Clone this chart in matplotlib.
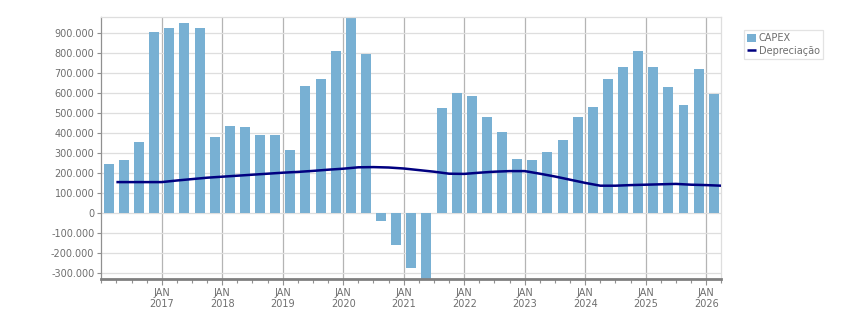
import numpy as np
import matplotlib
matplotlib.use("Agg")
import matplotlib.pyplot as plt
from matplotlib.ticker import FuncFormatter, FixedLocator, MultipleLocator

# quarterly CAPEX, 2016 Q1 .. 2026 Q1
capex = [
    246000, 266000, 356000, 906000,   # 2016
    926000, 951000, 926000, 381000,   # 2017
    436000, 431000, 391000, 391000,   # 2018
    316000, 636000, 671000, 811000,   # 2019
    976000, 796000, -38000, -158000,  # 2020
    -273000, -340000, 526000, 601000, # 2021
    586000, 481000, 406000, 271000,   # 2022
    266000, 306000, 366000, 481000,   # 2023
    531000, 671000, 731000, 811000,   # 2024
    731000, 631000, 541000, 721000,   # 2025
    596000,                           # 2026
]

# depreciation, read at quarter starts from 2016 Q2 to 2026 Q2
depreciacao = [
    156000, 156000, 156000, 156000, 164000, 171000, 178000, 183000,
    188000, 193000, 198000, 203000, 207000, 212000, 218000, 223000,
    230000, 231000, 229000, 224000, 216000, 208000, 198000, 197000,
    203000, 208000, 211000, 211000, 198000, 184000, 168000, 152000,
    138000, 138000, 141000, 143000, 145000, 147000, 143000, 141000,
    138000,
]

years = list(range(2017, 2027))

bar_color = "#78b0d3"
line_color = "#000080"
text_color = "#6e6e6e"

fig = plt.figure(figsize=(8.51, 3.13), dpi=100)
ax = fig.add_axes([0.119, 0.1077, 0.7286, 0.8389])

x_bar = np.arange(len(capex)) + 0.5
x_line = np.arange(1, len(depreciacao) + 1)

bars = ax.bar(x_bar, capex, width=0.66, color=bar_color, label="CAPEX", zorder=2)
line, = ax.plot(x_line, depreciacao, color=line_color, linewidth=1.8,
                label="Depreciação", zorder=3, solid_capstyle="butt")

ax.set_xlim(0, len(capex))
ax.set_ylim(-330000, 983000)

# x axis: JAN ticks every year, minor ticks every quarter
major_pos = [(y - 2016) * 4 for y in years]
ax.xaxis.set_major_locator(FixedLocator(major_pos))
ax.xaxis.set_minor_locator(MultipleLocator(1))
ax.set_xticklabels([f"JAN\n{y}" for y in years])

ax.yaxis.set_major_locator(MultipleLocator(100000))
ax.yaxis.set_major_formatter(FuncFormatter(lambda v, p: f"{int(round(v)):,}".replace(",", ".")))

ax.tick_params(axis="both", which="major", labelsize=7, labelcolor=text_color,
               color="#909090", length=4, width=0.8)
ax.tick_params(axis="x", which="minor", color="#909090", length=3, width=0.8)
ax.tick_params(axis="y", which="major", length=3, pad=2)
ax.tick_params(axis="x", which="major", pad=2)

# grid
ax.set_axisbelow(True)
ax.yaxis.grid(True, color="#dedede", linewidth=0.9)
ax.xaxis.grid(True, which="major", color="#b4b4b4", linewidth=0.9)

ax.spines["bottom"].set_color("#808080")
ax.spines["bottom"].set_linewidth(2)
ax.spines["left"].set_color("#909090")
ax.spines["left"].set_linewidth(0.9)
for s in ("top", "right"):
    ax.spines[s].set_color("#dedede")
    ax.spines[s].set_linewidth(0.9)

leg = fig.legend([bars, line], ["CAPEX", "Depreciação"], loc="upper left",
                 bbox_to_anchor=(0.874, 0.905), fontsize=7,
                 frameon=True, fancybox=False, handlelength=0.9, handleheight=0.9,
                 handletextpad=0.3, borderpad=0.35, labelspacing=0.3,
                 borderaxespad=0, labelcolor=text_color)
leg.get_frame().set_edgecolor("#dcdcdc")
leg.get_frame().set_linewidth(0.9)

fig.savefig("out.png", dpi=100)
